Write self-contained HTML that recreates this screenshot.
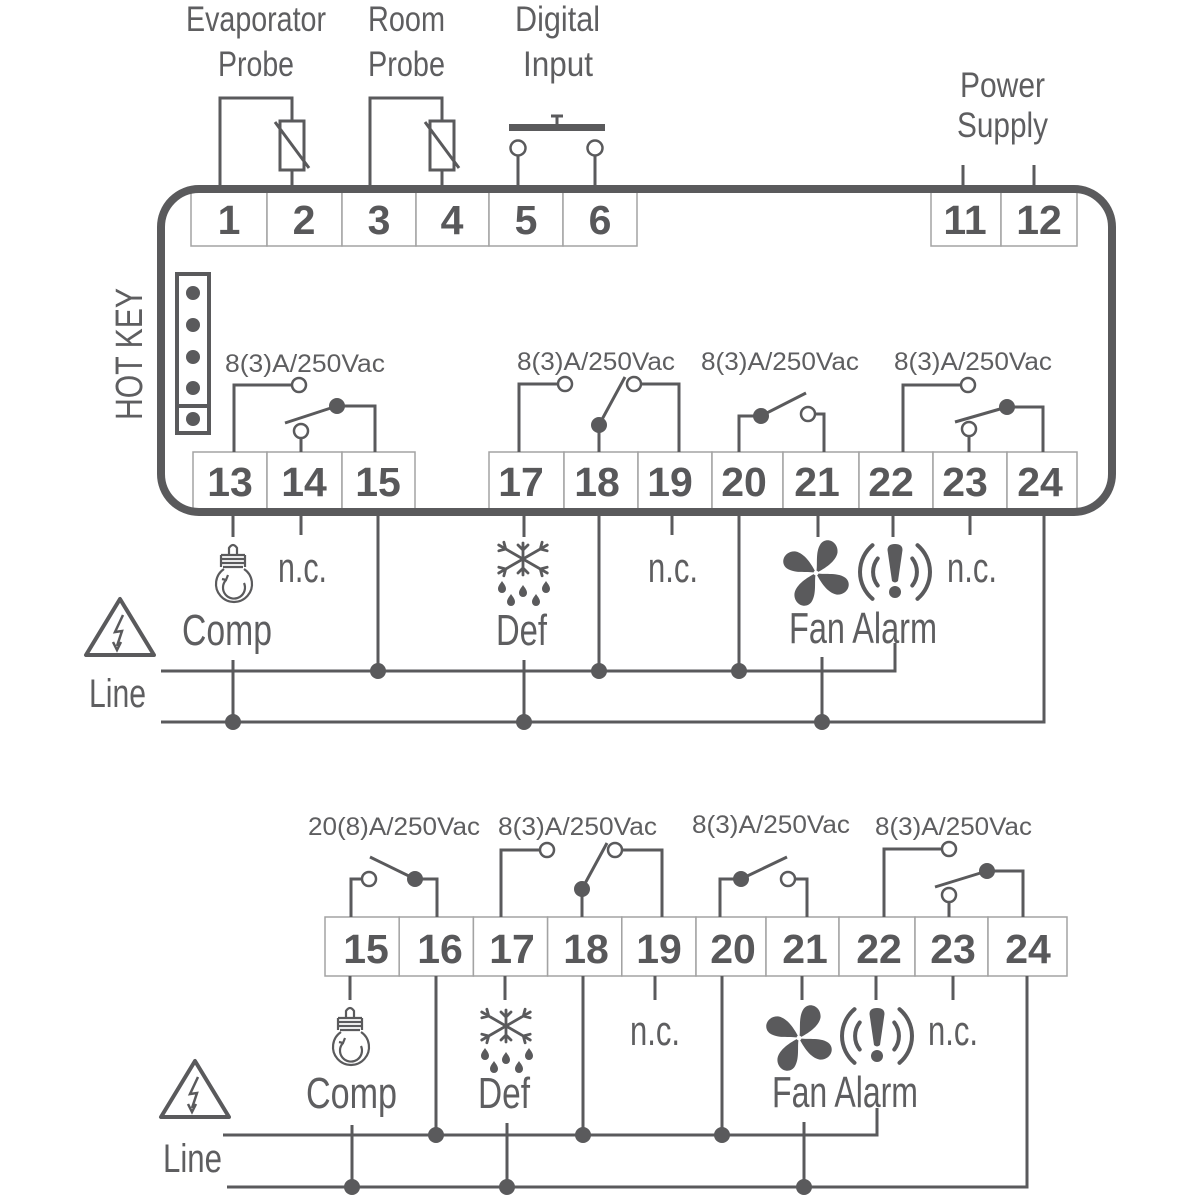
<!DOCTYPE html>
<html>
<head>
<meta charset="utf-8">
<style>
html,body{margin:0;padding:0;background:#fff;}
svg{display:block;}
.lb{font-family:"Liberation Sans",sans-serif;fill:#5e5e60;}
.num{font-family:"Liberation Sans",sans-serif;font-weight:bold;fill:#58585a;font-size:41px;text-anchor:middle;}
.cell{fill:#fff;stroke:#a3a3a3;stroke-width:1.5;}
.w{fill:none;stroke:#5a5a5c;stroke-width:3;}
.oc{fill:#fff;stroke:#5a5a5c;stroke-width:2.5;}
.fd{fill:#5a5a5c;}
</style>
</head>
<body>
<svg width="1200" height="1200" viewBox="0 0 1200 1200" xmlns="http://www.w3.org/2000/svg">
<rect width="1200" height="1200" fill="#fff"/>

<!-- ================= TOP LABELS ================= -->
<text class="lb" x="186" y="31" font-size="35" textLength="140" lengthAdjust="spacingAndGlyphs">Evaporator</text>
<text class="lb" x="218" y="76" font-size="35" textLength="76" lengthAdjust="spacingAndGlyphs">Probe</text>
<text class="lb" x="368" y="31" font-size="35" textLength="77" lengthAdjust="spacingAndGlyphs">Room</text>
<text class="lb" x="368" y="76" font-size="35" textLength="77" lengthAdjust="spacingAndGlyphs">Probe</text>
<text class="lb" x="515" y="31" font-size="35" textLength="85" lengthAdjust="spacingAndGlyphs">Digital</text>
<text class="lb" x="523" y="76" font-size="35" textLength="70" lengthAdjust="spacingAndGlyphs">Input</text>
<text class="lb" x="960" y="97" font-size="35" textLength="85" lengthAdjust="spacingAndGlyphs">Power</text>
<text class="lb" x="957" y="137" font-size="35" textLength="91" lengthAdjust="spacingAndGlyphs">Supply</text>

<!-- probes -->
<path class="w" d="M220 190 V98 H292 V121 M292 170 V190"/>
<rect x="280" y="121" width="24" height="49" fill="none" stroke="#5a5a5c" stroke-width="3"/>
<line x1="275" y1="122" x2="309" y2="168" stroke="#5a5a5c" stroke-width="3"/>
<path class="w" d="M370 190 V98 H442 V121 M442 170 V190"/>
<rect x="430" y="121" width="24" height="49" fill="none" stroke="#5a5a5c" stroke-width="3"/>
<line x1="425" y1="122" x2="459" y2="168" stroke="#5a5a5c" stroke-width="3"/>

<!-- digital input -->
<rect x="509" y="124" width="96" height="7" class="fd"/>
<line x1="557" y1="117" x2="557" y2="124" stroke="#5a5a5c" stroke-width="3"/>
<line x1="551" y1="116" x2="563" y2="116" stroke="#5a5a5c" stroke-width="3"/>
<path class="w" d="M518 156 V190 M595 156 V190"/>
<circle class="oc" cx="518" cy="148" r="7.5"/>
<circle class="oc" cx="595" cy="148" r="7.5"/>

<!-- power -->
<path class="w" d="M963 165 V190 M1034 165 V190"/>

<!-- ================= TOP BOX ================= -->
<rect class="cell" x="191" y="192" width="76" height="54"/>
<rect class="cell" x="267" y="192" width="75" height="54"/>
<rect class="cell" x="342" y="192" width="74" height="54"/>
<rect class="cell" x="416" y="192" width="73" height="54"/>
<rect class="cell" x="489" y="192" width="74" height="54"/>
<rect class="cell" x="563" y="192" width="74" height="54"/>
<rect class="cell" x="931" y="192" width="70" height="54"/>
<rect class="cell" x="1001" y="192" width="76" height="54"/>

<rect class="cell" x="193" y="452" width="74" height="58"/>
<rect class="cell" x="267" y="452" width="75" height="58"/>
<rect class="cell" x="342" y="452" width="73" height="58"/>
<rect class="cell" x="489" y="452" width="75" height="58"/>
<rect class="cell" x="564" y="452" width="74" height="58"/>
<rect class="cell" x="638" y="452" width="74" height="58"/>
<rect class="cell" x="712" y="452" width="71" height="58"/>
<rect class="cell" x="783" y="452" width="76" height="58"/>
<rect class="cell" x="859" y="452" width="74" height="58"/>
<rect class="cell" x="933" y="452" width="74" height="58"/>
<rect class="cell" x="1007" y="452" width="70" height="58"/>

<rect x="161" y="189" width="951" height="323" rx="38" ry="38" fill="none" stroke="#5a5a5c" stroke-width="8"/>

<text class="num" x="229" y="234">1</text>
<text class="num" x="304" y="234">2</text>
<text class="num" x="379" y="234">3</text>
<text class="num" x="452" y="234">4</text>
<text class="num" x="526" y="234">5</text>
<text class="num" x="600" y="234">6</text>
<text class="num" x="965" y="234">11</text>
<text class="num" x="1039" y="234">12</text>

<text class="num" x="230" y="496">13</text>
<text class="num" x="304" y="496">14</text>
<text class="num" x="378" y="496">15</text>
<text class="num" x="521" y="496">17</text>
<text class="num" x="597" y="496">18</text>
<text class="num" x="670" y="496">19</text>
<text class="num" x="744" y="496">20</text>
<text class="num" x="817" y="496">21</text>
<text class="num" x="891" y="496">22</text>
<text class="num" x="965" y="496">23</text>
<text class="num" x="1040" y="496">24</text>

<!-- HOT KEY -->
<text class="lb" font-size="38" transform="translate(142,420) rotate(-90)" x="0" y="0" textLength="132" lengthAdjust="spacingAndGlyphs">HOT KEY</text>
<rect x="177" y="274" width="32" height="159" fill="none" stroke="#5a5a5c" stroke-width="4"/>
<line x1="177" y1="406" x2="209" y2="406" stroke="#5a5a5c" stroke-width="4"/>
<circle class="fd" cx="193" cy="293" r="7"/>
<circle class="fd" cx="193" cy="325" r="7"/>
<circle class="fd" cx="193" cy="357" r="7"/>
<circle class="fd" cx="193" cy="388" r="7"/>
<circle class="fd" cx="193" cy="419" r="7"/>

<text class="lb" x="225" y="372" font-size="25" textLength="160" lengthAdjust="spacingAndGlyphs">8(3)A/250Vac</text>
<text class="lb" x="517" y="370" font-size="25" textLength="158" lengthAdjust="spacingAndGlyphs">8(3)A/250Vac</text>
<text class="lb" x="701" y="370" font-size="25" textLength="158" lengthAdjust="spacingAndGlyphs">8(3)A/250Vac</text>
<text class="lb" x="894" y="370" font-size="25" textLength="158" lengthAdjust="spacingAndGlyphs">8(3)A/250Vac</text>

<!-- relay 1 -->
<path class="w" d="M234 452 V385 H292"/>
<circle class="oc" cx="299" cy="385" r="7"/>
<path class="w" d="M301 438 V452"/>
<circle class="oc" cx="301" cy="431" r="7"/>
<line x1="285" y1="423" x2="337" y2="406" stroke="#5a5a5c" stroke-width="3"/>
<path class="w" d="M337 406 H375 V452"/>
<circle class="fd" cx="337" cy="406" r="8"/>

<!-- relay 2 -->
<path class="w" d="M519 452 V384 H558"/>
<circle class="oc" cx="565" cy="384" r="7"/>
<path class="w" d="M599 452 V425"/>
<line x1="599" y1="425" x2="625" y2="377" stroke="#5a5a5c" stroke-width="3"/>
<circle class="fd" cx="599" cy="425" r="8"/>
<path class="w" d="M641 384 H679 V452"/>
<circle class="oc" cx="634" cy="384" r="7"/>

<!-- relay 3 -->
<path class="w" d="M739 452 V416 H761"/>
<line x1="761" y1="416" x2="806" y2="393" stroke="#5a5a5c" stroke-width="3"/>
<circle class="fd" cx="761" cy="416" r="8"/>
<path class="w" d="M815 414 H824 V452"/>
<circle class="oc" cx="808" cy="414" r="7"/>

<!-- relay 4 -->
<path class="w" d="M903 452 V385 H961"/>
<circle class="oc" cx="968" cy="385" r="7"/>
<path class="w" d="M969 452 V436"/>
<circle class="oc" cx="969" cy="429" r="7"/>
<line x1="955" y1="422" x2="1007" y2="407" stroke="#5a5a5c" stroke-width="3"/>
<path class="w" d="M1007 407 H1043 V452"/>
<circle class="fd" cx="1007" cy="407" r="8"/>

<!-- top wiring below -->
<path class="w" d="M233 516 V537 M301 516 V535 M524 516 V537 M672 516 V535 M818 516 V537 M893 516 V537 M970 516 V535"/>
<path class="w" d="M378 516 V671 M599 516 V671 M739 516 V671"/>
<path class="w" d="M161 671 H895 V643"/>
<path class="w" d="M161 722 H1044 V516"/>
<path class="w" d="M233 660 V722 M524 660 V722 M822 657 V722"/>
<circle class="fd" cx="378" cy="671" r="8"/>
<circle class="fd" cx="599" cy="671" r="8"/>
<circle class="fd" cx="739" cy="671" r="8"/>
<circle class="fd" cx="233" cy="722" r="8"/>
<circle class="fd" cx="524" cy="722" r="8"/>
<circle class="fd" cx="822" cy="722" r="8"/>

<text class="lb" x="182" y="645" font-size="44" textLength="90" lengthAdjust="spacingAndGlyphs">Comp</text>
<text class="lb" x="278" y="582" font-size="42" textLength="49" lengthAdjust="spacingAndGlyphs">n.c.</text>
<text class="lb" x="496" y="645" font-size="44" textLength="51" lengthAdjust="spacingAndGlyphs">Def</text>
<text class="lb" x="648" y="582" font-size="42" textLength="50" lengthAdjust="spacingAndGlyphs">n.c.</text>
<text class="lb" x="789" y="643" font-size="44" textLength="148" lengthAdjust="spacingAndGlyphs">Fan Alarm</text>
<text class="lb" x="947" y="582" font-size="42" textLength="50" lengthAdjust="spacingAndGlyphs">n.c.</text>
<text class="lb" x="89" y="707" font-size="40" textLength="57" lengthAdjust="spacingAndGlyphs">Line</text>

<!-- warning triangle -->
<g fill="none" stroke="#5a5a5c">
  <path d="M120 599 L86 655 L154 655 Z" stroke-width="4" stroke-linejoin="round"/>
  <path d="M123 615 L115 632 L122 631 L117 646" stroke-width="2.5"/>
  <path d="M113 642 L117 650 L121 642" stroke-width="2.5"/>
</g>

<!-- compressor bulb -->
<g transform="translate(233,545)" fill="none" stroke="#5a5a5c" stroke-width="2.2">
  <path d="M-4 10 V3 Q0 -3 4 3 V10"/>
  <path d="M-12 10 H12 M-12 14 H12 M-12 18 H12 M-10 22 H10"/>
  <path d="M-12 10 V22 M12 10 V22"/>
  <path d="M-9 24 A18 18 0 1 0 11 24"/>
  <path d="M-7 35 A11 11 0 1 0 11 38"/>
  <path d="M-11 34 L-7 35 L-5 30"/>
</g>

<!-- defrost -->
<g transform="translate(523,559)">
  <g fill="none" stroke="#5a5a5c" stroke-width="2.8" stroke-linecap="round">
    <path d="M0 -16 V16 M-5 -14 L0 -9 L5 -14 M-5 14 L0 9 L5 14"/>
    <g transform="rotate(60)"><path d="M0 -28 V28 M-5 -25 L0 -20 L5 -25 M-5 25 L0 20 L5 25"/></g>
    <g transform="rotate(-60)"><path d="M0 -28 V28 M-5 -25 L0 -20 L5 -25 M-5 25 L0 20 L5 25"/></g>
  </g>
  <g fill="#5a5a5c">
    <path transform="translate(-21,28)" d="M0 -6 C2 -3 4 -1 4 2 A4 4 0 0 1 -4 2 C-4 -1 -2 -3 0 -6 Z"/>
    <path transform="translate(0,32)" d="M0 -6 C2 -3 4 -1 4 2 A4 4 0 0 1 -4 2 C-4 -1 -2 -3 0 -6 Z"/>
    <path transform="translate(23,28)" d="M0 -6 C2 -3 4 -1 4 2 A4 4 0 0 1 -4 2 C-4 -1 -2 -3 0 -6 Z"/>
    <path transform="translate(-12,41)" d="M0 -6 C2 -3 4 -1 4 2 A4 4 0 0 1 -4 2 C-4 -1 -2 -3 0 -6 Z"/>
    <path transform="translate(13,41)" d="M0 -6 C2 -3 4 -1 4 2 A4 4 0 0 1 -4 2 C-4 -1 -2 -3 0 -6 Z"/>
  </g>
</g>

<!-- fan -->
<g transform="translate(816,573) rotate(-15)" fill="#5a5a5c">
  <path d="M0 0 C-6 -4 -20 -4 -27 -12 C-33 -20 -24 -30 -14 -26 C-6 -22 -2 -10 0 0 Z"/>
  <path transform="rotate(90)" d="M0 0 C-6 -4 -20 -4 -27 -12 C-33 -20 -24 -30 -14 -26 C-6 -22 -2 -10 0 0 Z"/>
  <path transform="rotate(180)" d="M0 0 C-6 -4 -20 -4 -27 -12 C-33 -20 -24 -30 -14 -26 C-6 -22 -2 -10 0 0 Z"/>
  <path transform="rotate(270)" d="M0 0 C-6 -4 -20 -4 -27 -12 C-33 -20 -24 -30 -14 -26 C-6 -22 -2 -10 0 0 Z"/>
  <circle cx="0" cy="0" r="2.5" fill="#fff"/>
</g>

<!-- alarm -->
<g transform="translate(895,572)">
  <g fill="none" stroke="#5a5a5c" stroke-width="4" stroke-linecap="round">
    <path d="M-22.5 -26.8 A35 35 0 0 0 -22.5 26.8"/>
    <path d="M22.5 -26.8 A35 35 0 0 1 22.5 26.8"/>
    <path d="M-17.3 -13.5 A22 22 0 0 0 -17.3 13.5"/>
    <path d="M17.3 -13.5 A22 22 0 0 1 17.3 13.5"/>
  </g>
  <path fill="#5a5a5c" d="M-7.5 -22 Q-7.5 -28 0 -28 Q7.5 -28 7.5 -22 L3 9 Q0 12 -3 9 Z"/>
  <circle fill="#5a5a5c" cx="0" cy="20" r="6"/>
</g>

<!-- ================= BOTTOM BLOCK ================= -->
<text class="lb" x="308" y="835" font-size="25" textLength="172" lengthAdjust="spacingAndGlyphs">20(8)A/250Vac</text>
<text class="lb" x="498" y="835" font-size="25" textLength="159" lengthAdjust="spacingAndGlyphs">8(3)A/250Vac</text>
<text class="lb" x="692" y="833" font-size="25" textLength="158" lengthAdjust="spacingAndGlyphs">8(3)A/250Vac</text>
<text class="lb" x="875" y="835" font-size="25" textLength="157" lengthAdjust="spacingAndGlyphs">8(3)A/250Vac</text>

<rect class="cell" x="325" y="917" width="74.2" height="59"/>
<rect class="cell" x="399.2" y="917" width="74.2" height="59"/>
<rect class="cell" x="473.4" y="917" width="74.2" height="59"/>
<rect class="cell" x="547.6" y="917" width="74.2" height="59"/>
<rect class="cell" x="621.8" y="917" width="74.2" height="59"/>
<rect class="cell" x="696" y="917" width="70" height="59"/>
<rect class="cell" x="766" y="917" width="73" height="59"/>
<rect class="cell" x="839" y="917" width="76" height="59"/>
<rect class="cell" x="915" y="917" width="73" height="59"/>
<rect class="cell" x="988" y="917" width="79" height="59"/>

<text class="num" x="366" y="963">15</text>
<text class="num" x="440" y="963">16</text>
<text class="num" x="512" y="963">17</text>
<text class="num" x="586" y="963">18</text>
<text class="num" x="659" y="963">19</text>
<text class="num" x="733" y="963">20</text>
<text class="num" x="805" y="963">21</text>
<text class="num" x="879" y="963">22</text>
<text class="num" x="953" y="963">23</text>
<text class="num" x="1028" y="963">24</text>

<!-- relay A -->
<path class="w" d="M351 917 V879 H362"/>
<circle class="oc" cx="369" cy="879" r="7"/>
<line x1="370" y1="857" x2="415" y2="879" stroke="#5a5a5c" stroke-width="3"/>
<path class="w" d="M415 879 H437 V917"/>
<circle class="fd" cx="415" cy="879" r="8"/>

<!-- relay B -->
<path class="w" d="M501 917 V850 H540"/>
<circle class="oc" cx="547" cy="850" r="7"/>
<path class="w" d="M582 917 V889"/>
<line x1="582" y1="889" x2="607" y2="843" stroke="#5a5a5c" stroke-width="3"/>
<circle class="fd" cx="582" cy="889" r="8"/>
<path class="w" d="M622 850 H662 V917"/>
<circle class="oc" cx="615" cy="850" r="7"/>

<!-- relay C -->
<path class="w" d="M720 917 V879 H741"/>
<line x1="741" y1="879" x2="787" y2="857" stroke="#5a5a5c" stroke-width="3"/>
<circle class="fd" cx="741" cy="879" r="8"/>
<path class="w" d="M795 879 H807 V917"/>
<circle class="oc" cx="788" cy="879" r="7"/>

<!-- relay D -->
<path class="w" d="M884 917 V849 H942"/>
<circle class="oc" cx="949" cy="849" r="7"/>
<path class="w" d="M949 917 V902"/>
<circle class="oc" cx="949" cy="895" r="7"/>
<line x1="935" y1="887" x2="987" y2="871" stroke="#5a5a5c" stroke-width="3"/>
<path class="w" d="M987 871 H1023 V917"/>
<circle class="fd" cx="987" cy="871" r="8"/>

<!-- bottom wiring -->
<path class="w" d="M350 976 V1000 M505 976 V1000 M655 976 V1000 M802 976 V1000 M876 976 V1000 M953 976 V1000"/>
<path class="w" d="M436 976 V1135 M583 976 V1135 M722 976 V1135"/>
<path class="w" d="M223 1135 H877 V1108"/>
<path class="w" d="M227 1187 H1027 V976"/>
<path class="w" d="M352 1125 V1187 M507 1123 V1187 M804 1122 V1187"/>
<circle class="fd" cx="436" cy="1135" r="8"/>
<circle class="fd" cx="583" cy="1135" r="8"/>
<circle class="fd" cx="722" cy="1135" r="8"/>
<circle class="fd" cx="352" cy="1187" r="8"/>
<circle class="fd" cx="507" cy="1187" r="8"/>
<circle class="fd" cx="804" cy="1187" r="8"/>

<text class="lb" x="306" y="1108" font-size="44" textLength="91" lengthAdjust="spacingAndGlyphs">Comp</text>
<text class="lb" x="478" y="1108" font-size="44" textLength="52" lengthAdjust="spacingAndGlyphs">Def</text>
<text class="lb" x="630" y="1045" font-size="42" textLength="50" lengthAdjust="spacingAndGlyphs">n.c.</text>
<text class="lb" x="772" y="1107" font-size="44" textLength="146" lengthAdjust="spacingAndGlyphs">Fan Alarm</text>
<text class="lb" x="928" y="1045" font-size="42" textLength="50" lengthAdjust="spacingAndGlyphs">n.c.</text>
<text class="lb" x="163" y="1172" font-size="40" textLength="59" lengthAdjust="spacingAndGlyphs">Line</text>

<!-- bottom icons -->
<g transform="translate(75,462)" fill="none" stroke="#5a5a5c">
  <path d="M120 599 L86 655 L154 655 Z" stroke-width="4" stroke-linejoin="round"/>
  <path d="M123 615 L115 632 L122 631 L117 646" stroke-width="2.5"/>
  <path d="M113 642 L117 650 L121 642" stroke-width="2.5"/>
</g>

<g transform="translate(350,1008)" fill="none" stroke="#5a5a5c" stroke-width="2.2">
  <path d="M-4 10 V3 Q0 -3 4 3 V10"/>
  <path d="M-12 10 H12 M-12 14 H12 M-12 18 H12 M-10 22 H10"/>
  <path d="M-12 10 V22 M12 10 V22"/>
  <path d="M-9 24 A18 18 0 1 0 11 24"/>
  <path d="M-7 35 A11 11 0 1 0 11 38"/>
  <path d="M-11 34 L-7 35 L-5 30"/>
</g>

<g transform="translate(506,1026)">
  <g fill="none" stroke="#5a5a5c" stroke-width="2.8" stroke-linecap="round">
    <path d="M0 -16 V16 M-5 -14 L0 -9 L5 -14 M-5 14 L0 9 L5 14"/>
    <g transform="rotate(60)"><path d="M0 -28 V28 M-5 -25 L0 -20 L5 -25 M-5 25 L0 20 L5 25"/></g>
    <g transform="rotate(-60)"><path d="M0 -28 V28 M-5 -25 L0 -20 L5 -25 M-5 25 L0 20 L5 25"/></g>
  </g>
  <g fill="#5a5a5c">
    <path transform="translate(-21,28)" d="M0 -6 C2 -3 4 -1 4 2 A4 4 0 0 1 -4 2 C-4 -1 -2 -3 0 -6 Z"/>
    <path transform="translate(0,32)" d="M0 -6 C2 -3 4 -1 4 2 A4 4 0 0 1 -4 2 C-4 -1 -2 -3 0 -6 Z"/>
    <path transform="translate(23,28)" d="M0 -6 C2 -3 4 -1 4 2 A4 4 0 0 1 -4 2 C-4 -1 -2 -3 0 -6 Z"/>
    <path transform="translate(-12,41)" d="M0 -6 C2 -3 4 -1 4 2 A4 4 0 0 1 -4 2 C-4 -1 -2 -3 0 -6 Z"/>
    <path transform="translate(13,41)" d="M0 -6 C2 -3 4 -1 4 2 A4 4 0 0 1 -4 2 C-4 -1 -2 -3 0 -6 Z"/>
  </g>
</g>

<g transform="translate(799,1038) rotate(-15)" fill="#5a5a5c">
  <path d="M0 0 C-6 -4 -20 -4 -27 -12 C-33 -20 -24 -30 -14 -26 C-6 -22 -2 -10 0 0 Z"/>
  <path transform="rotate(90)" d="M0 0 C-6 -4 -20 -4 -27 -12 C-33 -20 -24 -30 -14 -26 C-6 -22 -2 -10 0 0 Z"/>
  <path transform="rotate(180)" d="M0 0 C-6 -4 -20 -4 -27 -12 C-33 -20 -24 -30 -14 -26 C-6 -22 -2 -10 0 0 Z"/>
  <path transform="rotate(270)" d="M0 0 C-6 -4 -20 -4 -27 -12 C-33 -20 -24 -30 -14 -26 C-6 -22 -2 -10 0 0 Z"/>
  <circle cx="0" cy="0" r="2.5" fill="#fff"/>
</g>

<g transform="translate(877,1036)">
  <g fill="none" stroke="#5a5a5c" stroke-width="4" stroke-linecap="round">
    <path d="M-22.5 -26.8 A35 35 0 0 0 -22.5 26.8"/>
    <path d="M22.5 -26.8 A35 35 0 0 1 22.5 26.8"/>
    <path d="M-17.3 -13.5 A22 22 0 0 0 -17.3 13.5"/>
    <path d="M17.3 -13.5 A22 22 0 0 1 17.3 13.5"/>
  </g>
  <path fill="#5a5a5c" d="M-7.5 -22 Q-7.5 -28 0 -28 Q7.5 -28 7.5 -22 L3 9 Q0 12 -3 9 Z"/>
  <circle fill="#5a5a5c" cx="0" cy="20" r="6"/>
</g>

</svg>
</body>
</html>
